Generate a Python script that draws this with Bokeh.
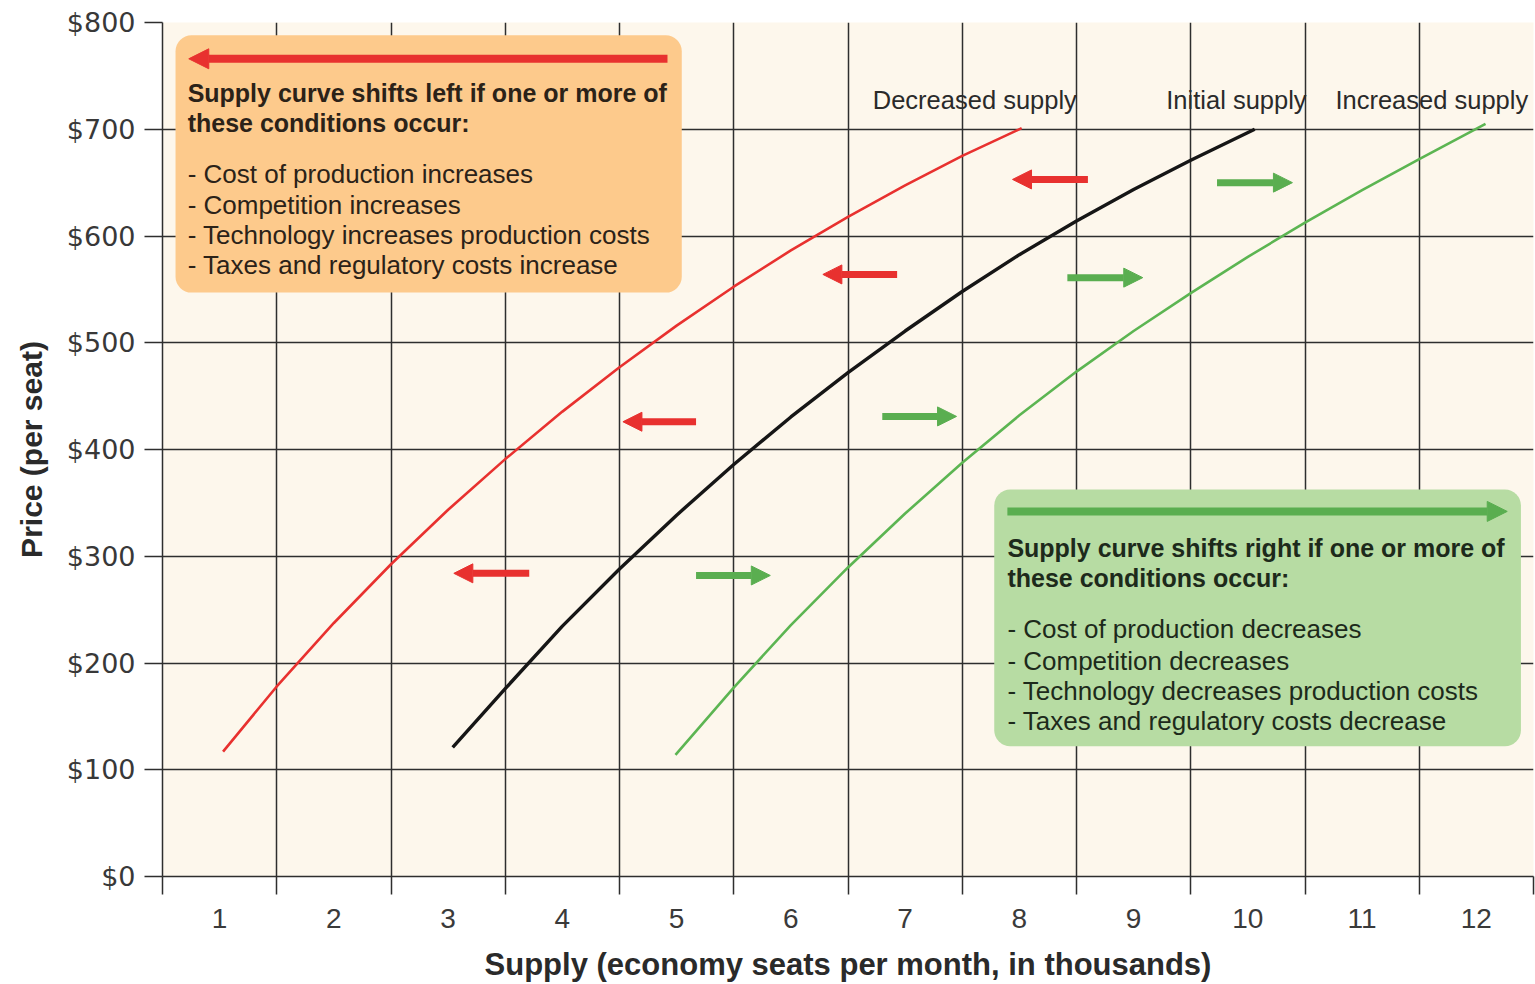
from bokeh.plotting import figure
from bokeh.models import FixedTicker, Arrow, NormalHead, ColumnDataSource
from bokeh.core.properties import value
from bokeh.embed import file_html
from bokeh.resources import INLINE

# ---------------- data ----------------
x_categories = [1, 2, 3, 4, 5, 6, 7, 8, 9, 10, 11, 12]
x_bounds = [0.5, 1.5, 2.5, 3.5, 4.5, 5.5, 6.5, 7.5, 8.5, 9.5, 10.5, 11.5, 12.5]
y_ticks = [0, 100, 200, 300, 400, 500, 600, 700, 800]
y_tick_labels = ["$0", "$100", "$200", "$300", "$400", "$500", "$600", "$700", "$800"]

decreased_x = [1.03, 1.5, 2.0, 2.5, 3.0, 3.5, 4.0, 4.5, 5.0, 5.5, 6.0, 6.5, 7.0, 7.5, 8.02]
decreased_y = [117, 178, 237.5, 292.5, 343.5, 391, 435.5, 477, 516, 552.5, 586.5, 618, 647.5, 675, 701]

initial_x = [3.04, 3.5, 4.0, 4.5, 5.0, 5.5, 6.0, 6.5, 7.0, 7.5, 8.0, 8.5, 9.0, 9.5, 10.06]
initial_y = [121, 176, 234.5, 288, 338.5, 386, 430.5, 472, 511, 548, 582.5, 614, 643.5, 671, 700]

increased_x = [4.99, 5.5, 6.0, 6.5, 7.0, 7.5, 8.0, 8.5, 9.0, 9.5, 10.0, 10.5, 11.0, 11.5, 12.08]
increased_y = [114, 177, 235.5, 289.5, 340, 387.5, 432, 473, 511, 546.5, 580.5, 612.5, 643, 672, 705]

curve_labels = ["Decreased supply", "Initial supply", "Increased supply"]
curve_label_x = [7.61, 9.9, 11.61]
curve_label_y = [727, 727, 727]

left_arrow_y = [284, 426, 564, 653]
left_arrow_tail = [3.71, 5.17, 6.93, 8.60]
left_arrow_head = [3.05, 4.53, 6.28, 7.94]

right_arrow_y = [282, 431, 561, 650]
right_arrow_tail = [5.17, 6.80, 8.42, 9.73]
right_arrow_head = [5.82, 7.45, 9.08, 10.39]

left_box = dict(left=0.614, right=5.045, top=788, bottom=547)
right_box = dict(left=7.78, right=12.39, top=362.5, bottom=122)

left_big_arrow = dict(tail=4.92, head=0.73, y=766)
right_big_arrow = dict(tail=7.895, head=12.27, y=342)

left_title = ["Supply curve shifts left if one or more of", "these conditions occur:"]
left_title_y = [734, 706]
left_items = ["- Cost of production increases", "- Competition increases",
              "- Technology increases production costs", "- Taxes and regulatory costs increase"]
left_items_y = [658.5, 629.5, 601.4, 573.3]
left_text_x = 0.72

right_title = ["Supply curve shifts right if one or more of", "these conditions occur:"]
right_title_y = [307.3, 279.2]
right_items = ["- Cost of production decreases", "- Competition decreases",
               "- Technology decreases production costs", "- Taxes and regulatory costs decrease"]
right_items_y = [231.4, 202.3, 174.2, 146.1]
right_text_x = 7.895

# ---------------- styles ----------------
RED = "#e8312f"
GREEN_LINE = "#5cb552"
GREEN_ARROW = "#5aae50"
BLACK = "#161616"
ORANGE_BOX = "#fdca8c"
GREEN_BOX = "#b7dca3"
GRID = "#2e2e2e"
FONT = "Liberation Sans"

p = figure(width=1535, height=984, x_range=(0.5, 12.5), y_range=(0, 800),
           output_backend="svg", toolbar_location=None,
           min_border_left=162, min_border_right=2, min_border_top=22, min_border_bottom=108)
p.background_fill_color = "#fdf7ec"
p.border_fill_color = "white"
p.outline_line_color = None

# axes
xa = p.xaxis[0]
xa.ticker = FixedTicker(ticks=x_categories, minor_ticks=x_bounds)
xa.major_tick_out = 0
xa.major_tick_in = 0
xa.minor_tick_out = 18
xa.minor_tick_in = 0
xa.minor_tick_line_color = GRID
xa.minor_tick_line_width = 1.5
xa.axis_line_color = GRID
xa.axis_line_width = 1.5
xa.major_label_standoff = 14
xa.major_label_text_font = FONT
xa.major_label_text_font_size = "28px"
xa.major_label_text_color = "#3a3a3a"
xa.axis_label = "Supply (economy seats per month, in thousands)"
xa.axis_label_text_font = FONT
xa.axis_label_text_font_size = "31px"
xa.axis_label_text_font_style = "bold"
xa.axis_label_text_color = "#2a2a2a"
xa.axis_label_standoff = 16

ya = p.yaxis[0]
ya.ticker = FixedTicker(ticks=y_ticks)
ya.major_label_overrides = {t: l for t, l in zip(y_ticks, y_tick_labels)}
ya.major_tick_out = 18
ya.major_tick_in = 0
ya.minor_tick_out = 0
ya.minor_tick_in = 0
ya.major_tick_line_color = GRID
ya.major_tick_line_width = 1.5
ya.axis_line_color = GRID
ya.axis_line_width = 1.5
ya.major_label_standoff = 9
ya.major_label_text_font = "DejaVu Sans"
ya.major_label_text_font_size = "27px"
ya.major_label_text_color = "#383838"
ya.axis_label = "Price (per seat)"
ya.axis_label_text_font = FONT
ya.axis_label_text_font_size = "30px"
ya.axis_label_text_font_style = "bold"
ya.axis_label_text_color = "#2a2a2a"
ya.axis_label_standoff = 16

# grids
p.xgrid.grid_line_color = None
p.xgrid.minor_grid_line_color = GRID
p.xgrid.minor_grid_line_width = 1.5
p.ygrid.grid_line_color = GRID
p.ygrid.grid_line_width = 1.5

# boxes
for b, col in ((left_box, ORANGE_BOX), (right_box, GREEN_BOX)):
    p.quad(left=[b["left"]], right=[b["right"]], top=[b["top"]], bottom=[b["bottom"]],
           fill_color=col, line_color=None, border_radius=16)

# curves
p.line(decreased_x, decreased_y, line_color=RED, line_width=2.6, line_join="round")
p.line(initial_x, initial_y, line_color=BLACK, line_width=3.4, line_join="round")
p.line(increased_x, increased_y, line_color=GREEN_LINE, line_width=2.6, line_join="round")

# curve labels
p.text(x=curve_label_x, y=curve_label_y, text=curve_labels, text_font=value(FONT),
       text_font_size="25.5px", text_align="center", text_baseline="middle", text_color="#2a2a2a")

# box texts
p.text(x=[left_text_x] * 2, y=left_title_y, text=left_title, text_font=value(FONT),
       text_font_size="25px", text_font_style="bold", text_baseline="middle", text_color="#2b2218")
p.text(x=[left_text_x] * 4, y=left_items_y, text=left_items, text_font=value(FONT),
       text_font_size="26px", text_baseline="middle", text_color="#2b2218")
p.text(x=[right_text_x] * 2, y=right_title_y, text=right_title, text_font=value(FONT),
       text_font_size="25px", text_font_style="bold", text_baseline="middle", text_color="#1d2a1b")
p.text(x=[right_text_x] * 4, y=right_items_y, text=right_items, text_font=value(FONT),
       text_font_size="26px", text_baseline="middle", text_color="#1d2a1b")

# small arrows
ls = ColumnDataSource(dict(xs=left_arrow_tail, xe=left_arrow_head, y=left_arrow_y))
p.add_layout(Arrow(x_start="xs", y_start="y", x_end="xe", y_end="y", source=ls,
                   line_color=RED, line_width=7,
                   end=NormalHead(size=19, fill_color=RED, line_color=RED, line_width=1)))
rs = ColumnDataSource(dict(xs=right_arrow_tail, xe=right_arrow_head, y=right_arrow_y))
p.add_layout(Arrow(x_start="xs", y_start="y", x_end="xe", y_end="y", source=rs,
                   line_color=GREEN_ARROW, line_width=7,
                   end=NormalHead(size=19, fill_color=GREEN_ARROW, line_color=GREEN_ARROW, line_width=1)))

# big arrows
p.add_layout(Arrow(x_start=left_big_arrow["tail"], y_start=left_big_arrow["y"],
                   x_end=left_big_arrow["head"], y_end=left_big_arrow["y"],
                   line_color=RED, line_width=8,
                   end=NormalHead(size=20, fill_color=RED, line_color=RED, line_width=1)))
p.add_layout(Arrow(x_start=right_big_arrow["tail"], y_start=right_big_arrow["y"],
                   x_end=right_big_arrow["head"], y_end=right_big_arrow["y"],
                   line_color=GREEN_ARROW, line_width=8,
                   end=NormalHead(size=20, fill_color=GREEN_ARROW, line_color=GREEN_ARROW, line_width=1)))

open("out.html", "w").write(file_html(p, INLINE))
